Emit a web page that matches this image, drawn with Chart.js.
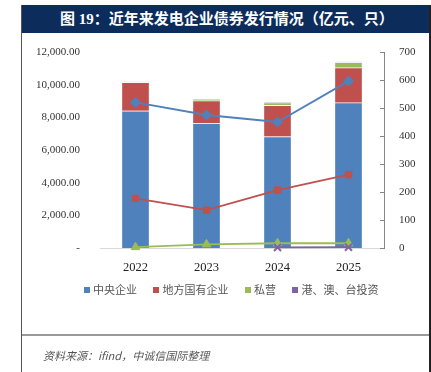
<!DOCTYPE html>
<html>
<head>
<meta charset="utf-8">
<script src="https://cdn.jsdelivr.net/npm/chart.js@4"></script>
<style>
  body { margin: 0; background: #fff; }
  #wrap { position: relative; width: 431px; height: 372px; overflow: hidden; }
  #c { position: absolute; left: 0; top: 0; }
  .frame-l { position: absolute; left: 21px; top: 5px; width: 1px; height: 372px; background: #555; }
  .frame-r { position: absolute; left: 429px; top: 5px; width: 2px; height: 372px; background: #222; }
  .sep { position: absolute; left: 22px; top: 334px; width: 407px; height: 2px; background: #999; }
  .title { position: absolute; left: 21px; top: 5px; width: 410px; height: 28px; background: #0c2d5c;
    color: #fff; font: bold 15px "Liberation Serif", "Noto Sans CJK SC", serif; line-height: 28px; }
  .title span { position: absolute; left: 39px; }
  .legend { position: absolute; top: 281px; left: 84px; font: 11px "Noto Sans CJK SC", sans-serif; color: #555; white-space: nowrap; }
  .legend i { display: inline-block; width: 6px; height: 6px; margin-right: 3px; vertical-align: 1px; }
  .legend b { font-weight: normal; margin-right: 14px; }
  .src { position: absolute; left: 43px; top: 347px; font: italic 11px "Noto Sans CJK SC", "Liberation Serif", sans-serif; color: #555; }
</style>
</head>
<body>
<div id="wrap">
  <canvas id="c" width="431" height="372"></canvas>
  <div class="title"><span>图 19：近年来发电企业债券发行情况（亿元、只）</span></div>
  <div class="frame-l"></div>
  <div class="frame-r"></div>
  <div class="legend">
    <i style="background:#4f81bd"></i><b>中央企业</b>
    <i style="background:#c0504d"></i><b>地方国有企业</b>
    <i style="background:#9bbb59"></i><b>私营</b>
    <i style="background:#8064a2"></i><b>港、澳、台投资</b>
  </div>
  <div class="sep"></div>
  <div class="src">资料来源：ifind，中诚信国际整理</div>
</div>
<script>
const years = ['2022', '2023', '2024', '2025'];

// 发行规模（亿元）
const amtCentral = [8400, 7630, 6820, 8900];
const amtLocal = [1750, 1390, 1920, 2140];
const amtPrivate = [30, 100, 160, 330];
const amtHKMT = [0, 0, 10, 15];

// 发行只数
const cntCentral = [520, 475, 450, 596];
const cntLocal = [177, 135, 207, 262];
const cntPrivate = [3, 13, 17, 17];
const cntHKMT = [null, null, 2, 3];

const blue = '#4f81bd', red = '#c0504d', green = '#9bbb59', purple = '#8064a2';
const serif = 'Liberation Serif';

function bar(data, color) {
  return { type: 'bar', data, backgroundColor: color, borderColor: 'rgba(255,255,255,0.6)',
    borderWidth: 1, barThickness: 28, yAxisID: 'y', stack: 'amt', order: 2 };
}
function line(data, color, style, radius) {
  return { type: 'line', data, borderColor: color, backgroundColor: color, borderWidth: 1.8,
    pointStyle: style, pointRadius: radius, pointBorderColor: color,
    pointBorderWidth: style === 'crossRot' ? 2 : 1,
    yAxisID: 'y1', order: 1, spanGaps: false, clip: false };
}

// right axis ticks point inward
const innerTicks = {
  id: 'innerTicks',
  afterDraw(chart) {
    const s = chart.scales.y1, ctx = chart.ctx;
    ctx.save();
    ctx.strokeStyle = '#868686';
    ctx.lineWidth = 1;
    s.ticks.forEach((t, i) => {
      const y = Math.round(s.getPixelForTick(i)) + 0.5;
      ctx.beginPath();
      ctx.moveTo(s.left - 4, y);
      ctx.lineTo(s.left, y);
      ctx.stroke();
    });
    ctx.restore();
  }
};

new Chart(document.getElementById('c'), {
  data: {
    labels: years,
    datasets: [
      bar(amtCentral, blue),
      bar(amtLocal, red),
      bar(amtPrivate, green),
      bar(amtHKMT, purple),
      // first line dataset ends up on top
      line(cntHKMT, purple, 'crossRot', 5),
      line(cntPrivate, green, 'triangle', 5),
      line(cntLocal, red, 'rect', 4.5),
      line(cntCentral, blue, 'rectRot', 5)
    ]
  },
  options: {
    responsive: false,
    animation: false,
    layout: { padding: { top: 52, bottom: 0, left: 0, right: 0 } },
    plugins: { legend: { display: false }, tooltip: { enabled: false } },
    scales: {
      x: {
        stacked: true,
        grid: { display: false },
        border: { color: '#d9d9d9', width: 1 },
        ticks: { color: '#222', font: { family: serif, size: 12.5 }, padding: 4 },
        afterFit(s) { s.height = 124; }
      },
      y: {
        stacked: true,
        position: 'left',
        min: 0, max: 12000,
        grid: { display: false },
        border: { display: false },
        ticks: {
          stepSize: 2000, color: '#333', padding: 12,
          font: { family: serif, size: 11 },
          callback: v => v === 0 ? '-' : v.toLocaleString('en-US', { minimumFractionDigits: 2, maximumFractionDigits: 2 })
        },
        afterFit(s) { s.width = 100; }
      },
      y1: {
        position: 'right',
        min: 0, max: 700,
        grid: { display: false },
        border: { color: '#868686', width: 1 },
        ticks: { stepSize: 100, color: '#333', padding: 7, font: { family: serif, size: 11 } },
        afterFit(s) { s.width = 47; }
      }
    }
  },
  plugins: [innerTicks]
});
</script>
</body>
</html>
